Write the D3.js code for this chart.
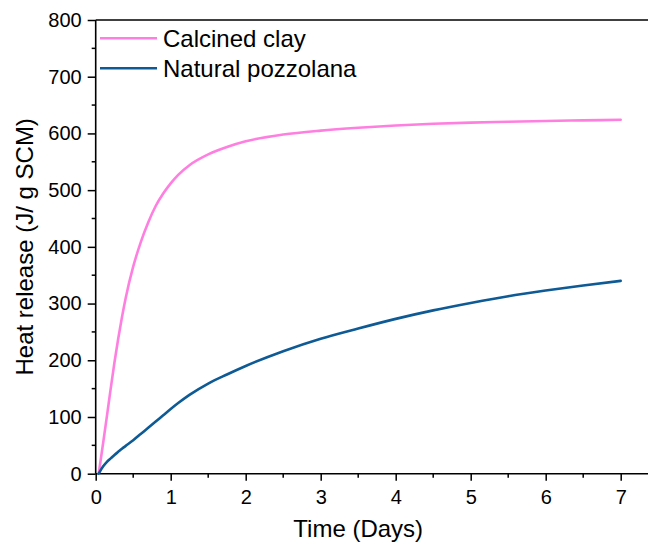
<!DOCTYPE html>
<html>
<head>
<meta charset="utf-8">
<script src="https://cdn.jsdelivr.net/npm/d3@7"></script>
<style>
  html, body { margin: 0; padding: 0; background: #ffffff; }
  svg { display: block; font-family: "Liberation Sans", Arial, sans-serif; }
</style>
</head>
<body>
<svg id="chart" width="648" height="550"></svg>
<script>
// Cumulative heat release of the two SCMs over the first week
const timeDays = [0.04, 0.1, 0.15, 0.2, 0.25, 0.3, 0.35, 0.4, 0.5, 0.6, 0.7, 0.8, 0.9, 1.0, 1.1,
                  1.25, 1.5, 1.75, 2.0, 2.5, 3.0, 3.5, 4.0, 4.5, 5.0, 5.5, 6.0, 6.5, 7.0];
const calcinedClay = [0, 55, 102, 150, 196, 238, 276, 310, 365, 408, 443, 472, 494, 512, 527,
                      544, 563, 576, 586, 598, 605, 610, 614, 617, 619, 620.5, 622, 623, 624];
const naturalPozzolana = [0, 13, 21, 27, 33, 38.5, 44, 49, 59, 70, 81, 92, 103, 114, 124.5,
                          139, 159, 175, 190, 216, 238, 256, 273, 288, 301, 313, 323, 332, 340];
const seriesNames = ["Calcined clay", "Natural pozzolana"];
const seriesColors = ["#ff7fe0", "#0e5a95"];
const xTicks = [0, 1, 2, 3, 4, 5, 6, 7];
const yTicks = [0, 100, 200, 300, 400, 500, 600, 700, 800];
const xTitle = "Time (Days)";
const yTitle = "Heat release (J/ g SCM)";

const svg = d3.select("#chart");
const plotLeft = 95.7, plotTop = 20, plotBottom = 473.7;
const x = d3.scaleLinear().domain([0, 7.5]).range([plotLeft, plotLeft + 7.5 * 75]);
const y = d3.scaleLinear().domain([0, 800]).range([plotBottom, plotTop]);

const axisColor = "#000";

// minor ticks halfway between labelled ones
const xMinor = d3.range(0.5, 7.5, 1);
const yMinor = d3.range(50, 800, 100);

const gx = svg.append("g").attr("transform", `translate(0,${plotBottom})`);
gx.call(d3.axisBottom(x).tickValues(xTicks).tickSize(7).tickPadding(9).tickFormat(d3.format("d")));
gx.append("g").selectAll("line").data(xMinor).join("line")
  .attr("x1", d => x(d)).attr("x2", d => x(d)).attr("y1", 0).attr("y2", 4)
  .attr("stroke", axisColor).attr("stroke-width", 1.5);

const gy = svg.append("g").attr("transform", `translate(${plotLeft},0)`);
gy.call(d3.axisLeft(y).tickValues(yTicks).tickSize(8).tickPadding(6).tickFormat(d3.format("d")));
gy.append("g").selectAll("line").data(yMinor).join("line")
  .attr("y1", d => y(d)).attr("y2", d => y(d)).attr("x1", 0).attr("x2", -4)
  .attr("stroke", axisColor).attr("stroke-width", 1.5);

[gx, gy].forEach(g => {
  g.select(".domain").attr("stroke", axisColor).attr("stroke-width", 1.6);
  g.selectAll(".tick line").attr("stroke", axisColor).attr("stroke-width", 1.5);
  g.selectAll(".tick text").attr("fill", "#000").style("font-size", "20px")
    .style("font-family", '"Liberation Sans", Arial, sans-serif');
});
gx.select(".domain").attr("d", `M${plotLeft},0H${x(7.5)}`);
gy.select(".domain").attr("d", `M0,${plotBottom}V${plotTop}`);

// top frame
svg.append("line").attr("x1", plotLeft).attr("x2", x(7.5)).attr("y1", plotTop).attr("y2", plotTop)
  .attr("stroke", axisColor).attr("stroke-width", 1.6);

// curves
const series = [calcinedClay, naturalPozzolana];
const line = d3.line().x(d => x(d[0])).y(d => y(d[1])).curve(d3.curveMonotoneX);
series.forEach((vals, i) => {
  svg.append("path")
    .datum(timeDays.map((t, j) => [t, vals[j]]))
    .attr("d", line)
    .attr("fill", "none")
    .attr("stroke", seriesColors[i])
    .attr("stroke-width", 2.6)
    .attr("stroke-linecap", "round")
    .attr("stroke-linejoin", "round");
});

// legend
const legend = svg.append("g");
seriesNames.forEach((name, i) => {
  const ly = 38.3 + i * 30;
  legend.append("line").attr("x1", 100).attr("x2", 157).attr("y1", ly).attr("y2", ly)
    .attr("stroke", seriesColors[i]).attr("stroke-width", 2.6);
  legend.append("text").attr("x", 163).attr("y", ly + 8.5)
    .style("font-size", "24px").attr("fill", "#000").text(name);
});

// axis titles
svg.append("text").attr("x", x(3.5)).attr("y", 537).attr("text-anchor", "middle")
  .style("font-size", "24px").attr("fill", "#000").text(xTitle);
svg.append("text").attr("transform", `translate(33,${(plotTop + plotBottom) / 2}) rotate(-90)`)
  .attr("text-anchor", "middle").style("font-size", "24px").attr("fill", "#000").text(yTitle);
</script>
</body>
</html>
